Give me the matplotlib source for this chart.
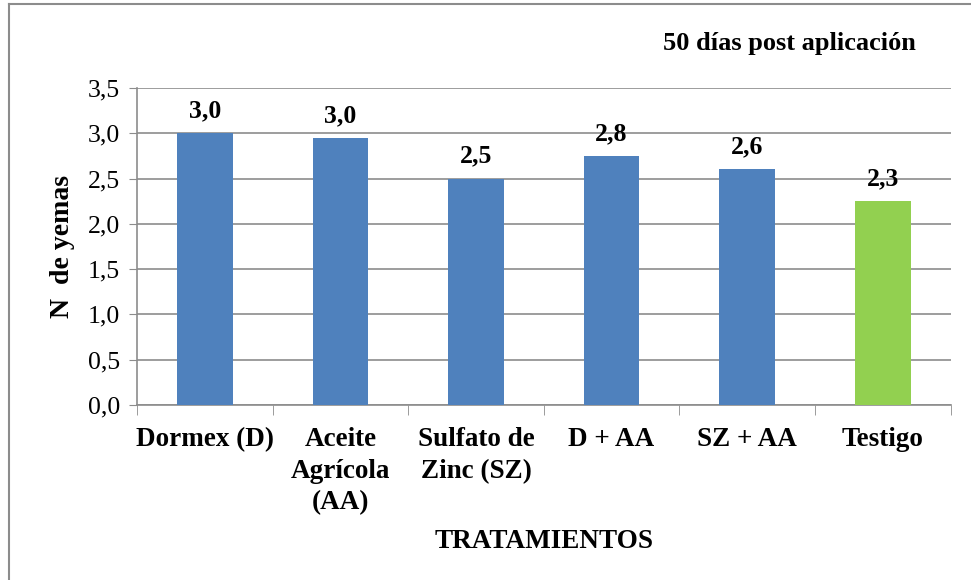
import numpy as np
import matplotlib.pyplot as plt
from matplotlib.lines import Line2D

tratamientos = ['Dormex (D)', 'Aceite\nAgrícola\n(AA)', 'Sulfato de\nZinc (SZ)',
                'D + AA', 'SZ + AA', 'Testigo']
yemas = [3.0, 2.95, 2.5, 2.75, 2.61, 2.25]
etiquetas = ['3,0', '3,0', '2,5', '2,8', '2,6', '2,3']
colores = ['#4F81BD'] * 5 + ['#92D050']
yticks = [0.0, 0.5, 1.0, 1.5, 2.0, 2.5, 3.0, 3.5]

plt.rcParams['font.family'] = ['Liberation Serif', 'DejaVu Serif']

fig = plt.figure(figsize=(9.71, 5.8), dpi=100)
ax = fig.add_axes([0.141, 0.302, 0.838, 0.546])

x = np.arange(len(tratamientos))
ax.bar(x, yemas, width=0.41, color=colores, zorder=3)
for xi, v, lab in zip(x, yemas, etiquetas):
    ax.text(xi, v + 0.12, lab, ha='center', va='bottom', fontsize=18.5, fontweight='bold')

ax.set_xlim(-0.5, len(tratamientos) - 0.5)
ax.set_ylim(0, 3.5)
ax.set_yticks(yticks)
ax.set_yticklabels([f'{t:.1f}'.replace('.', ',') for t in yticks], fontsize=18.5)
ax.yaxis.grid(True, color='#8c8c8c', linewidth=1.2, zorder=0)
ax.tick_params(axis='y', length=6, color='#8c8c8c', pad=6)

ax.set_xticks(x)
ax.set_xticklabels(tratamientos, fontsize=19.5, fontweight='bold', va='top', linespacing=1.35)
ax.tick_params(axis='x', length=0, pad=16)
ax.set_xticks(np.arange(len(tratamientos) + 1) - 0.5, minor=True)
ax.tick_params(axis='x', which='minor', length=7, color='#8c8c8c')

for s in ['top', 'right']:
    ax.spines[s].set_visible(False)
for s in ['left', 'bottom']:
    ax.spines[s].set_color('#8c8c8c')
    ax.spines[s].set_linewidth(1.2)

ax.set_ylabel('N  de yemas', fontsize=20, fontweight='bold', labelpad=9)
ax.set_xlabel('TRATAMIENTOS', fontsize=19.5, fontweight='bold', labelpad=10)
fig.text(0.943, 0.925, '50 días post aplicación', ha='right', va='center',
         fontsize=19, fontweight='bold')

# marco exterior
fig.add_artist(Line2D([9 / 971, 1], [1 - 4 / 580, 1 - 4 / 580], color='#8c8c8c', lw=1.5,
                      transform=fig.transFigure))
fig.add_artist(Line2D([9 / 971, 9 / 971], [0, 1 - 4 / 580], color='#8c8c8c', lw=1.5,
                      transform=fig.transFigure))

fig.savefig('out.png', dpi=100)
